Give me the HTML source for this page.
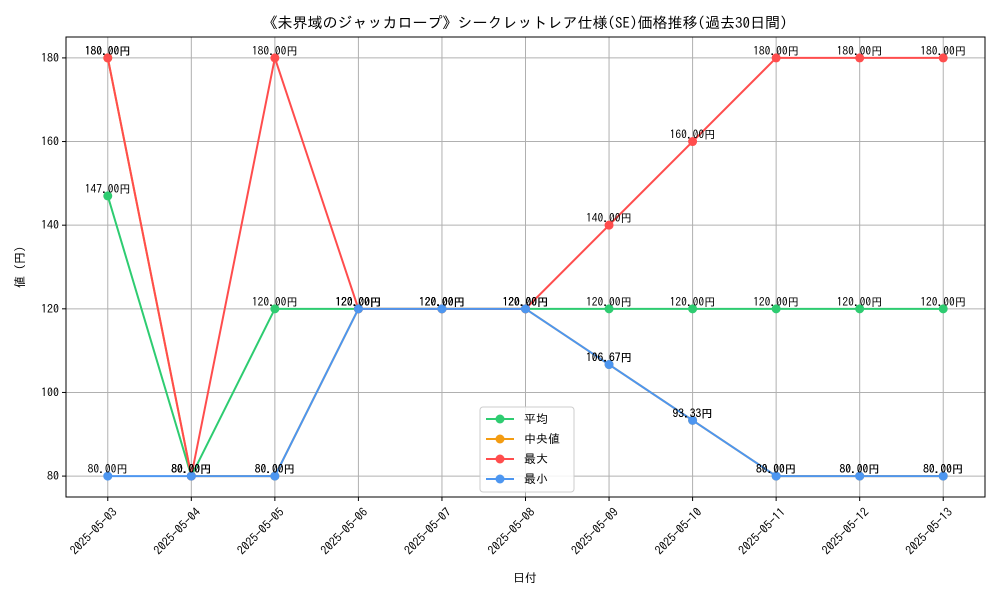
<!DOCTYPE html>
<html><head><meta charset="utf-8">
<style>
body{margin:0;background:#fff;}
svg{font-family:"IPAGothic","Noto Sans CJK JP","Liberation Sans",sans-serif;}
</style></head>
<body>
<svg id="chart" width="1000" height="600" xmlns="http://www.w3.org/2000/svg">
<rect width="1000" height="600" fill="#fff"/>
<text x="525" y="28" text-anchor="middle" font-size="15">《未界域のジャッカロープ》シークレットレア仕様(SE)価格推移(過去30日間)</text>
<g id="grid"></g>
<g id="series"></g>
<g id="labels"></g>
<rect x="66" y="37" width="919" height="460" fill="none" stroke="#000" stroke-width="1"/>
<g id="axes"></g>
<text x="525" y="582" text-anchor="middle" font-size="12">日付</text>
<text transform="translate(24,267) rotate(-90)" text-anchor="middle" font-size="12">値 (円)</text>
<g id="legend"></g>
</svg>
<script>
const categories=["2025-05-03","2025-05-04","2025-05-05","2025-05-06","2025-05-07","2025-05-08","2025-05-09","2025-05-10","2025-05-11","2025-05-12","2025-05-13"];
const avgValues=[147,80,120,120,120,120,120,120,120,120,120];
const medianValues=[180,80,80,120,120,120,106.67,93.33,80,80,80];
const maxValues=[180,80,180,120,120,120,140,160,180,180,180];
const minValues=[80,80,80,120,120,120,106.67,93.33,80,80,80];
const yTicks=[80,100,120,140,160,180];
const seriesNames=["平均","中央値","最大","最小"];
const colors=["#2ecc71","#f39c12","#ff4d4d","#4d96f0"];
const NS="http://www.w3.org/2000/svg";
const L=66,R=985,T=37,B=497,yMin=75,yMax=185;
const xs=i=>L+(i+0.5)*(R-L)/(categories.length);
const ys=v=>B-(v-yMin)/(yMax-yMin)*(B-T);
function mk(t,a,p){const e=document.createElementNS(NS,t);for(const k in a)e.setAttribute(k,a[k]);p.appendChild(e);return e;}
const grid=document.getElementById('grid'),axes=document.getElementById('axes');
categories.forEach((c,i)=>{
 const x=xs(i);
 const g=mk('line',{x1:x,x2:x,y1:T,y2:B,stroke:'#b0b0b0','stroke-width':1},grid);
 
 mk('line',{x1:x,x2:x,y1:B,y2:B+4,stroke:'#000'},axes);
 const t=mk('text',{x:x+4,y:B+10,'font-size':12,'text-anchor':'end',transform:`rotate(-45 ${x+4} ${B+10})`},axes);
 
 t.setAttribute('dy','0.7em');t.textContent=c;
});
yTicks.forEach(v=>{
 const y=ys(v);
 const g=mk('line',{x1:L,x2:R,y1:y,y2:y,stroke:'#b0b0b0','stroke-width':1},grid);
 
 mk('line',{x1:L-4,x2:L,y1:y,y2:y,stroke:'#000'},axes);
 const t=mk('text',{x:L-7,y:y+4,'font-size':12,'text-anchor':'end'},axes);
 
 t.textContent=v;
});
const all=[avgValues,medianValues,maxValues,minValues];
const sg=document.getElementById('series'),lg=document.getElementById('labels');
all.forEach((vals,s)=>{
 const pts=vals.map((v,i)=>xs(i)+','+ys(v)).join(' ');
 const pl=mk('polyline',{points:pts,fill:'none',stroke:colors[s],'stroke-width':2},sg);
 
 vals.forEach((v,i)=>{
  const c=mk('circle',{cx:xs(i),cy:ys(v),r:4.5,fill:colors[s]},sg);
  
  const t=mk('text',{x:xs(i),y:ys(v)-3,'font-size':11.5,'text-anchor':'middle'},lg);
  
  t.textContent=v.toFixed(2)+'円';
 });
});
const legend=document.getElementById('legend');
mk('rect',{x:480,y:407,width:94,height:85,fill:'#fff','fill-opacity':0.85,stroke:'#ccc',rx:3},legend);
seriesNames.forEach((n,s)=>{
 const y=419+s*20;
 const e=mk('line',{x1:486,x2:514,y1:y,y2:y,stroke:colors[s],'stroke-width':2},legend);
 
 mk('circle',{cx:500,cy:y,r:4.5,fill:colors[s]},legend);
 const t=mk('text',{x:524,y:y+4,'font-size':12},legend);
 
 t.textContent=n;
});
</script>
</body></html>
